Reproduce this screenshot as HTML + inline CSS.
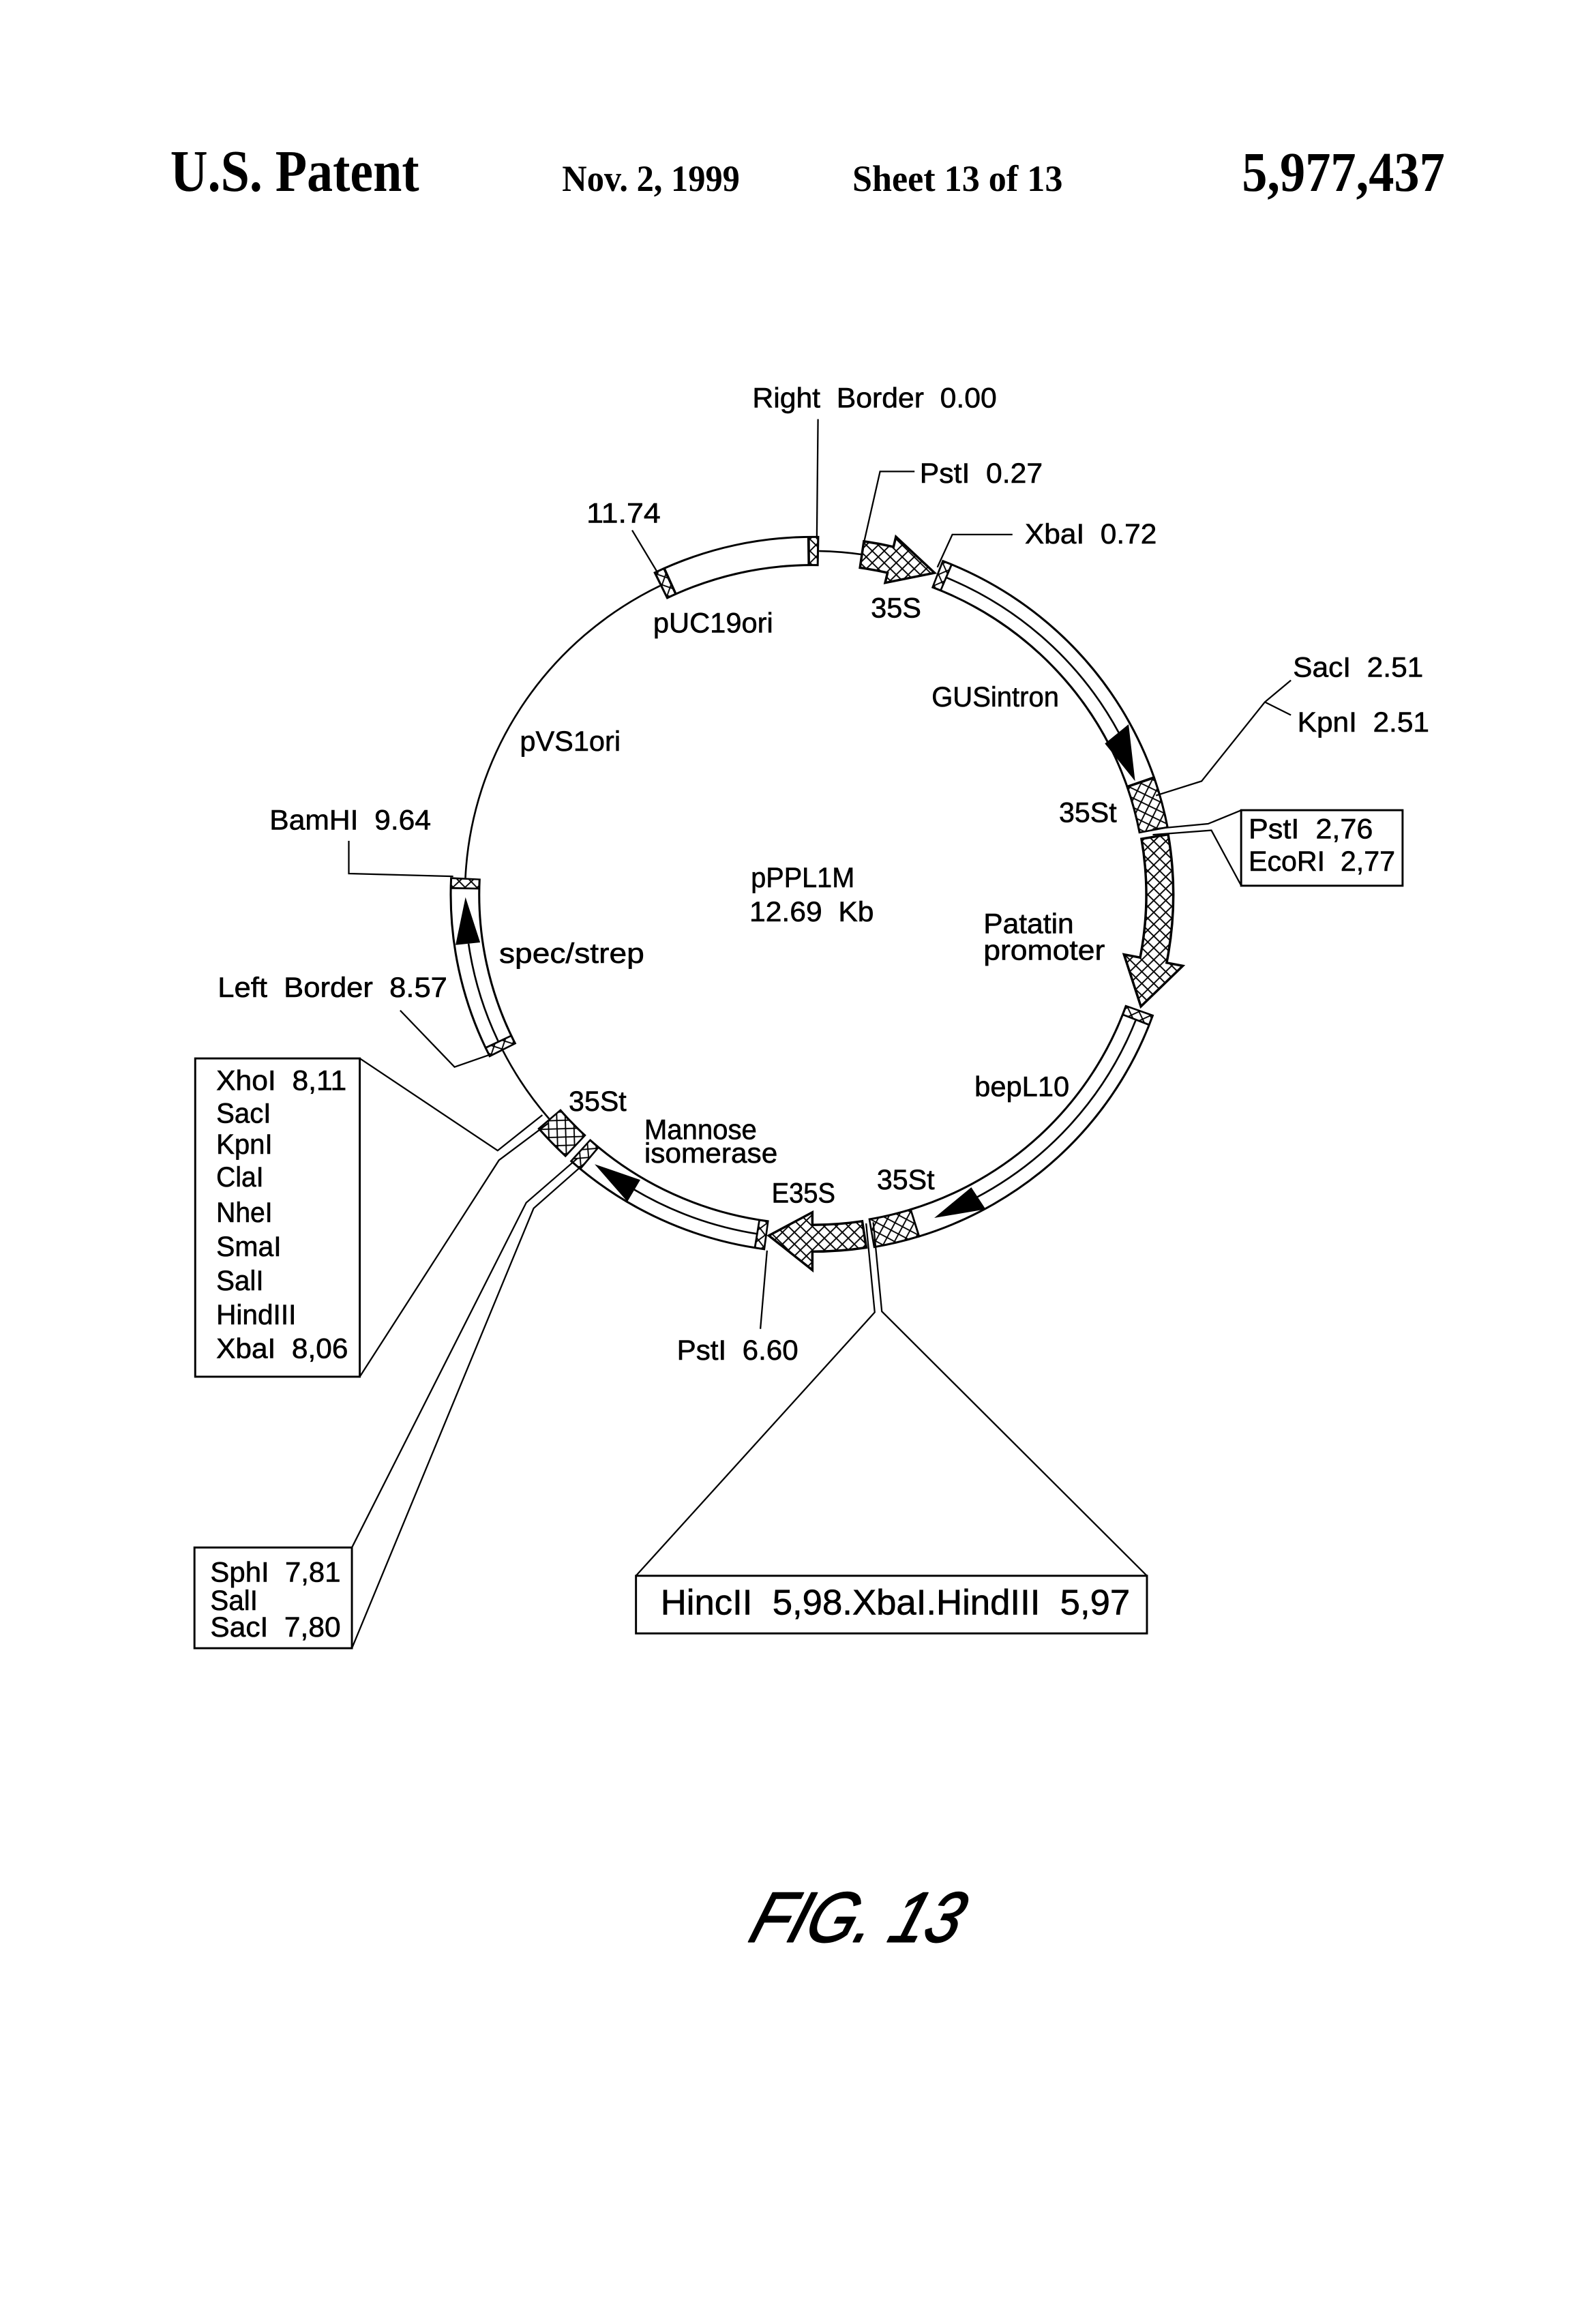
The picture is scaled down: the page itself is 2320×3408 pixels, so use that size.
<!DOCTYPE html>
<html><head><meta charset="utf-8"><title>FIG. 13</title>
<style>
html,body{margin:0;padding:0;background:#fff}
svg{display:block}
text{font-family:"Liberation Sans",sans-serif;fill:#000;white-space:pre;text-rendering:geometricPrecision}
.s{font-size:19px;stroke:#000;stroke-width:.28}
.h{font-family:"Liberation Serif",serif;font-weight:bold}
.k,.w,.z,.c{fill:none}
.k{stroke:#000;stroke-width:20.4}
.w{stroke:#fff;stroke-width:17.6}
.z{stroke:url(#x);stroke-width:17.6}
.c{stroke:#000;stroke-width:1.2}
.l{fill:none;stroke:#000;stroke-width:1.05}
.b{fill:#fff;stroke:#000;stroke-width:1.35}
</style></head>
<body>
<svg xmlns="http://www.w3.org/2000/svg" width="2320" height="3408" viewBox="0 0 2320 3408">
<defs>
<pattern id="x" width="8" height="8" patternUnits="userSpaceOnUse">
<rect width="8" height="8" fill="#fff"/>
<path d="M0,0L8,8M8,0L0,8" stroke="#000" stroke-width=".85" fill="none"/>
</pattern>
</defs>
<rect width="2320" height="3408" fill="#fff"/>
<g transform="scale(2.172)">

<!-- header -->
<text class="h" x="115" y="129" font-size="40" textLength="168" lengthAdjust="spacingAndGlyphs">U.S. Patent</text>
<text class="h" x="379.5" y="129" font-size="25" textLength="120" lengthAdjust="spacingAndGlyphs">Nov. 2, 1999</text>
<text class="h" x="575.5" y="129" font-size="25" textLength="142" lengthAdjust="spacingAndGlyphs">Sheet 13 of 13</text>
<text class="h" x="838.5" y="129" font-size="38" textLength="137" lengthAdjust="spacingAndGlyphs">5,977,437</text>

<!-- plasmid ring -->
<g transform="translate(548.5,604) scale(1.011,1)">
<!-- backbone -->
<circle class="c" r="232" pathLength="360" stroke-dasharray="61.2 999" transform="rotate(182.8)"/>
<circle class="c" r="232" pathLength="360" stroke-dasharray="7.1 999" transform="rotate(-88.9)"/>
<circle class="c" r="232" pathLength="360" stroke-dasharray="13.7 999" transform="rotate(139.3)"/>
<!-- pUC19ori -->
<circle class="k" r="232" pathLength="360" stroke-dasharray="27.1 999" transform="rotate(244)"/>
<circle class="z" r="232" pathLength="360" stroke-dasharray="1.25 999" transform="rotate(244.35)"/>
<circle class="w" r="232" pathLength="360" stroke-dasharray="23.2 999" transform="rotate(246)"/>
<circle class="z" r="232" pathLength="360" stroke-dasharray="1.15 999" transform="rotate(269.6)"/>
<!-- GUSintron -->
<circle class="k" r="232" pathLength="360" stroke-dasharray="50 999" transform="rotate(-69)"/>
<circle class="z" r="232" pathLength="360" stroke-dasharray="1.2 999" transform="rotate(-68.7)"/>
<circle class="w" r="232" pathLength="360" stroke-dasharray="47.9 999" transform="rotate(-67.2)"/>
<!-- 35St top -->
<circle class="k" r="232" pathLength="360" stroke-dasharray="8.5 999" transform="rotate(-19.2)"/>
<circle class="z" r="232" pathLength="360" stroke-dasharray="7.9 999" transform="rotate(-18.9)"/>
<!-- bepL10 -->
<circle class="k" r="232" pathLength="360" stroke-dasharray="53.4 999" transform="rotate(19.6)"/>
<circle class="z" r="232" pathLength="360" stroke-dasharray="1.3 999" transform="rotate(19.9)"/>
<circle class="w" r="232" pathLength="360" stroke-dasharray="51.2 999" transform="rotate(21.5)"/>
<!-- 35St bottom -->
<circle class="k" r="232" pathLength="360" stroke-dasharray="7.6 999" transform="rotate(72.7)"/>
<circle class="z" r="232" pathLength="360" stroke-dasharray="7 999" transform="rotate(73)"/>
<!-- Mannose isomerase -->
<circle class="k" r="232" pathLength="360" stroke-dasharray="34.5 999" transform="rotate(97.5)"/>
<circle class="z" r="232" pathLength="360" stroke-dasharray="1.2 999" transform="rotate(97.8)"/>
<circle class="w" r="232" pathLength="360" stroke-dasharray="30.5 999" transform="rotate(99.3)"/>
<circle class="z" r="232" pathLength="360" stroke-dasharray="1.6 999" transform="rotate(130.1)"/>
<!-- 35St left -->
<circle class="k" r="232" pathLength="360" stroke-dasharray="6.4 999" transform="rotate(132.9)"/>
<circle class="z" r="232" pathLength="360" stroke-dasharray="5.8 999" transform="rotate(133.2)"/>
<!-- spec/strep -->
<circle class="k" r="232" pathLength="360" stroke-dasharray="29.8 999" transform="rotate(153)"/>
<circle class="z" r="232" pathLength="360" stroke-dasharray="1.2 999" transform="rotate(153.3)"/>
<circle class="w" r="232" pathLength="360" stroke-dasharray="26.1 999" transform="rotate(154.8)"/>
<circle class="z" r="232" pathLength="360" stroke-dasharray="1.3 999" transform="rotate(181.2)"/>
<!-- centre lines -->
<circle class="c" r="232" pathLength="360" stroke-dasharray="39.5 999" transform="rotate(-67.5)"/>
<circle class="c" r="232" pathLength="360" stroke-dasharray="40.5 999" transform="rotate(21.5)"/>
<circle class="c" r="232" pathLength="360" stroke-dasharray="22 999" transform="rotate(99)"/>
<circle class="c" r="232" pathLength="360" stroke-dasharray="17 999" transform="rotate(154.8)"/>
<!-- hatched arrows -->
<path fill="url(#x)" stroke="#000" stroke-width="1.6" stroke-linejoin="miter" d="M34.4,-238.5A241,241 0 0 1 54.2,-234.8L55.8,-241.6L81.6,-217.2L48.6,-210.5L50.2,-217.3A223,223 0 0 0 31.8,-220.7Z"/>
<path fill="url(#x)" stroke="#000" stroke-width="1.6" stroke-linejoin="miter" d="M237.6,-40.6A241,241 0 0 1 236.6,46L247.4,48.1L219.4,75.5L208.1,40.4L218.9,42.5A223,223 0 0 0 219.8,-37.6Z"/>
<path fill="url(#x)" stroke="#000" stroke-width="1.6" stroke-linejoin="miter" d="M36,238.3A241,241 0 0 1 0,241L0,253.5L-29.1,230.2L0,214.5L0,223A223,223 0 0 0 33.3,220.5Z"/>
</g>

<!-- black arrowheads -->
<polygon points="746,502 762,489 766.4,527.4" fill="#000"/>
<polygon points="655.8,801.6 665.5,816.4 630.8,822.3" fill="#000"/>
<polygon points="432.3,796.6 423.6,811.3 401.5,786" fill="#000"/>
<polygon points="307.6,638 324.2,636.3 314.3,605.8" fill="#000"/>

<!-- leaders -->
<path class="l" d="M552.3,283L551.5,364"/>
<path class="l" d="M617.5,318.3L594.2,318.3L583.2,366.8"/>
<path class="l" d="M683.6,360.9L643,360.9L632.9,383"/>
<path class="l" d="M426.8,358L444.4,387.3"/>
<path class="l" d="M871.6,459.3L854,474L811.3,527.4L780.5,537.1"/>
<path class="l" d="M854,474L871.6,482.8"/>
<path class="l" d="M778.3,559.7L815.7,556.2L838.6,546.8"/>
<path class="l" d="M778.3,563.6L817.9,560.6L837.7,597.3"/>
<path class="l" d="M235.5,567.7L235.5,589.8L306,591.7"/>
<path class="l" d="M270.2,682.2L306.9,720.4L331,712"/>
<path class="l" d="M242.9,714.6L336,776.8L366.2,752.8"/>
<path class="l" d="M242.9,929.5L336.9,783.3L370,758.5"/>
<path class="l" d="M237.6,1044.8L355.3,812L389.7,782.2"/>
<path class="l" d="M237.6,1112.8L360.3,815.8L394.1,786"/>
<path class="l" d="M517.9,844.3L513.4,897.2"/>
<path class="l" d="M584.8,826L590.6,886L429.4,1063.9"/>
<path class="l" d="M589.6,825.2L595.4,885.4L774.4,1063.9"/>

<!-- boxes -->
<rect class="b" x="838" y="547" width="109" height="51"/>
<rect class="b" x="131.8" y="714.6" width="111.1" height="214.9"/>
<rect class="b" x="131.3" y="1044.8" width="106.3" height="68"/>
<rect class="b" x="429.4" y="1063.9" width="345" height="38.9"/>

<!-- labels -->
<g transform="translate(1,0)">
<text class="s" x="507" y="275" textLength="165" lengthAdjust="spacingAndGlyphs">Right  Border  0.00</text>
<text class="s" x="620" y="326" textLength="83" lengthAdjust="spacingAndGlyphs">PstI  0.27</text>
<text class="s" x="691" y="367" textLength="89" lengthAdjust="spacingAndGlyphs">XbaI  0.72</text>
<text class="s" x="395" y="353" textLength="50" lengthAdjust="spacingAndGlyphs">11.74</text>
<text class="s" x="587" y="417" textLength="34" lengthAdjust="spacingAndGlyphs">35S</text>
<text class="s" x="440" y="427" textLength="81" lengthAdjust="spacingAndGlyphs">pUC19ori</text>
<text class="s" x="628" y="477" textLength="86" lengthAdjust="spacingAndGlyphs">GUSintron</text>
<text class="s" x="872" y="457" textLength="88" lengthAdjust="spacingAndGlyphs">SacI  2.51</text>
<text class="s" x="875" y="494" textLength="89" lengthAdjust="spacingAndGlyphs">KpnI  2.51</text>
<text class="s" x="350" y="507" textLength="68" lengthAdjust="spacingAndGlyphs">pVS1ori</text>
<text class="s" x="714" y="555" textLength="39" lengthAdjust="spacingAndGlyphs">35St</text>
<text class="s" x="181" y="560" textLength="109" lengthAdjust="spacingAndGlyphs">BamHI  9.64</text>
<text class="s" x="842" y="566" textLength="84" lengthAdjust="spacingAndGlyphs">PstI  2,76</text>
<text class="s" x="842" y="588" textLength="99" lengthAdjust="spacingAndGlyphs">EcoRI  2,77</text>
<text class="s" x="506" y="599" textLength="70" lengthAdjust="spacingAndGlyphs">pPPL1M</text>
<text class="s" x="505" y="622" textLength="84" lengthAdjust="spacingAndGlyphs">12.69  Kb</text>
<text class="s" x="663" y="630" textLength="61" lengthAdjust="spacingAndGlyphs">Patatin</text>
<text class="s" x="663" y="648" textLength="82" lengthAdjust="spacingAndGlyphs">promoter</text>
<text class="s" x="336" y="650" textLength="98" lengthAdjust="spacingAndGlyphs">spec/strep</text>
<text class="s" x="146" y="673" textLength="155" lengthAdjust="spacingAndGlyphs">Left  Border  8.57</text>
<text class="s" x="657" y="740" textLength="64" lengthAdjust="spacingAndGlyphs">bepL10</text>
<text class="s" x="383" y="750" textLength="39" lengthAdjust="spacingAndGlyphs">35St</text>
<text class="s" x="434" y="769" textLength="76" lengthAdjust="spacingAndGlyphs">Mannose</text>
<text class="s" x="434" y="785" textLength="90" lengthAdjust="spacingAndGlyphs">isomerase</text>
<text class="s" x="520" y="812" textLength="43" lengthAdjust="spacingAndGlyphs">E35S</text>
<text class="s" x="591" y="803" textLength="39" lengthAdjust="spacingAndGlyphs">35St</text>
<text class="s" x="145" y="736" textLength="88" lengthAdjust="spacingAndGlyphs">XhoI  8,11</text>
<text class="s" x="145" y="758" textLength="37" lengthAdjust="spacingAndGlyphs">SacI</text>
<text class="s" x="145" y="779" textLength="38" lengthAdjust="spacingAndGlyphs">KpnI</text>
<text class="s" x="145" y="801" textLength="32" lengthAdjust="spacingAndGlyphs">ClaI</text>
<text class="s" x="145" y="825" textLength="38" lengthAdjust="spacingAndGlyphs">NheI</text>
<text class="s" x="145" y="848" textLength="44" lengthAdjust="spacingAndGlyphs">SmaI</text>
<text class="s" x="145" y="871" textLength="32" lengthAdjust="spacingAndGlyphs">SalI</text>
<text class="s" x="145" y="894" textLength="54" lengthAdjust="spacingAndGlyphs">HindIII</text>
<text class="s" x="145" y="917" textLength="89" lengthAdjust="spacingAndGlyphs">XbaI  8,06</text>
<text class="s" x="456" y="918" textLength="82" lengthAdjust="spacingAndGlyphs">PstI  6.60</text>
<text class="s" x="141" y="1068" textLength="88" lengthAdjust="spacingAndGlyphs">SphI  7,81</text>
<text class="s" x="141" y="1087" textLength="32" lengthAdjust="spacingAndGlyphs">SalI</text>
<text class="s" x="141" y="1105" textLength="88" lengthAdjust="spacingAndGlyphs">SacI  7,80</text>
<text x="445" y="1090" font-size="24" stroke="#000" stroke-width=".3" textLength="317" lengthAdjust="spacingAndGlyphs">HincII  5,98.XbaI.HindIII  5,97</text>
</g>

<!-- figure caption -->
<text transform="translate(504,1311) skewX(-18)" font-size="48" font-style="italic" stroke="#000" stroke-width=".9" stroke-linejoin="round" textLength="141" lengthAdjust="spacingAndGlyphs">FIG. 13</text>
</g>
</svg>
</body></html>
